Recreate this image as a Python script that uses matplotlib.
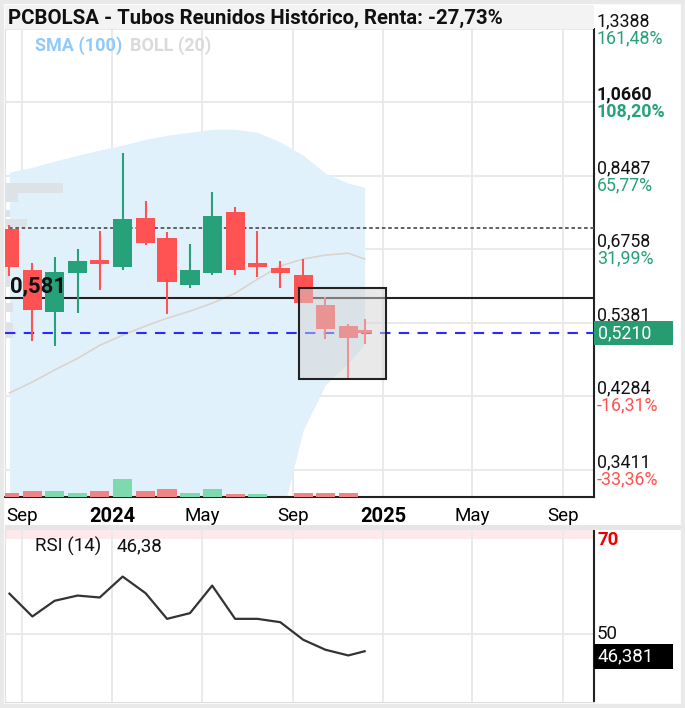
import matplotlib
matplotlib.use('Agg')
import matplotlib.pyplot as plt
import matplotlib.dates as mdates
from matplotlib.patches import Rectangle
import pandas as pd

plt.rcParams['font.family'] = ['Roboto', 'DejaVu Sans']

# monthly candles (last one is the running month)
dates = pd.to_datetime(['2023-08-15', '2023-09-15', '2023-10-15', '2023-11-15', '2023-12-15',
                        '2024-01-15', '2024-02-15', '2024-03-15', '2024-04-15', '2024-05-15',
                        '2024-06-15', '2024-07-15', '2024-08-15', '2024-09-15', '2024-10-15',
                        '2024-11-15', '2024-12-07'])
opens = [0.721, 0.634, 0.557, 0.628, 0.655, 0.639, 0.746, 0.700, 0.605, 0.628,
         0.758, 0.648, 0.637, 0.624, 0.569, 0.533, 0.527]
highs = [0.729, 0.647, 0.660, 0.676, 0.716, 0.910, 0.786, 0.714, 0.687, 0.808,
         0.771, 0.716, 0.651, 0.657, 0.584, 0.536, 0.544]
lows = [0.622, 0.509, 0.501, 0.555, 0.596, 0.635, 0.685, 0.553, 0.599, 0.624,
        0.624, 0.620, 0.599, 0.573, 0.512, 0.453, 0.504]
closes = [0.639, 0.560, 0.631, 0.651, 0.645, 0.742, 0.689, 0.611, 0.634, 0.750,
          0.635, 0.639, 0.629, 0.573, 0.528, 0.514, 0.521]
volumes = [40, 60, 60, 40, 60, 180, 60, 80, 40, 80, 27, 27, 0, 40, 40, 40, 0]

boll_upper = [0.859, 0.872, 0.889, 0.905, 0.920, 0.934, 0.951, 0.963, 0.972, 0.981,
              0.981, 0.972, 0.943, 0.905, 0.856, 0.830, 0.820]
boll_lower = [0.290, 0.285, 0.280, 0.275, 0.270, 0.265, 0.260, 0.260, 0.260, 0.260,
              0.265, 0.270, 0.290, 0.386, 0.444, 0.475, 0.504]
boll_mid = [0.433, 0.448, 0.465, 0.482, 0.502, 0.518, 0.533, 0.546, 0.558, 0.572,
            0.590, 0.616, 0.642, 0.656, 0.664, 0.668, 0.656]

rsi = [58.5, 53.7, 57.0, 58.1, 57.7, 62.1, 58.6, 53.2, 54.4, 60.2,
       53.2, 53.2, 52.5, 48.8, 46.7, 45.5, 46.381]

# volume profile bars at the left (price low, price high, length in days)
prof_lo = [0.806, 0.783, 0.747, 0.725, 0.601, 0.557, 0.514]
prof_hi = [0.830, 0.806, 0.763, 0.742, 0.637, 0.573, 0.538]
prof_len = [78, 18, 7, 30, 7, 11, 11]

price_ticks = [1.3388, 1.0660, 0.8487, 0.6758, 0.5381, 0.4284, 0.3411]
pct_labels = ['161,48%', '108,20%', '65,77%', '31,99%', '', '-16,31%', '-33,36%']
last_price = 0.5210
support = 0.581
ref_level = 0.722
box_start, box_end = '2024-09-10', '2025-01-05'
box_lo, box_hi = 0.4517, 0.599

tick_dates = pd.to_datetime(['2023-09-01', '2024-01-01', '2024-05-01', '2024-09-01',
                             '2025-01-01', '2025-05-01', '2025-09-01'])
tick_labels = ['Sep', '2024', 'May', 'Sep', '2025', 'May', 'Sep']

UP, DOWN = '#26a17a', '#ff5252'
GRID = '#e8e8e8'
W, H = 685, 708
FS = 12.8


def px_rect(l, t, r, b):
    return [l / W, 1 - b / H, (r - l) / W, (b - t) / H]


fig = plt.figure(figsize=(6.85, 7.08), dpi=100)
fig.patches.append(Rectangle((0, 0), 1, 1, transform=fig.transFigure, fill=False,
                             ec='#e9e9e9', lw=6))
# title band
fig.patches.append(Rectangle((5 / W, 1 - 29 / H), 589 / W, 24 / H, transform=fig.transFigure,
                             fc='#f3f3f3', ec='none'))
# separator between panels
fig.patches.append(Rectangle((5 / W, 1 - 530 / H), 676 / W, 5 / H, transform=fig.transFigure,
                             fc='#e6e6e6', ec='none'))

x = mdates.date2num(dates)
tx = mdates.date2num(tick_dates)
xmin, xmax = mdates.date2num(pd.Timestamp('2023-08-09')), mdates.date2num(pd.Timestamp('2025-10-13'))

# ---------------- price panel ----------------
ax = fig.add_axes(px_rect(5, 29, 594, 497))
ax.set_yscale('log')
ax.set_ylim(0.3136, 1.3388)
ax.set_xlim(xmin, xmax)
ax.set_yticks(price_ticks)
ax.yaxis.set_minor_locator(matplotlib.ticker.NullLocator())
ax.set_yticklabels([])
ax.tick_params(axis='y', length=0)
ax.set_xticks(tx)
ax.set_xticklabels(tick_labels)
ax.tick_params(axis='x', length=0, pad=7, labelsize=13.5)
for lab in ax.get_xticklabels():
    if lab.get_text().isdigit():
        lab.set_fontweight('bold')
        lab.set_fontsize(14.5)
ax.grid(True, color=GRID, lw=1.3, zorder=0)
ax.set_axisbelow(True)
ax.spines['top'].set_visible(False)
ax.spines['left'].set_color('#e2e2e2')
ax.spines['right'].set_color('#222222')
ax.spines['bottom'].set_color('#222222')
ax.spines['right'].set_linewidth(1.5)
ax.spines['bottom'].set_linewidth(1.5)

ax.fill_between(x, boll_lower, boll_upper, color='#e1f1fc', lw=0, zorder=1)
ax.plot(x, boll_mid, color='#dcd3cc', lw=1.2, zorder=2)

for lo, hi, ln in zip(prof_lo, prof_hi, prof_len):
    ax.barh(lo, ln, height=hi - lo, left=xmin, align='edge', color='#dce2e6', lw=0, zorder=2)

ax.hlines(ref_level, x[0], xmax, color='#555555', ls=(0, (2, 1.5)), lw=1.3, zorder=3)
ax.axhline(support, color='#222222', lw=1.5, zorder=3)
ax.axhline(last_price, color='#2a2aff', ls=(0, (5, 4)), lw=1.5, zorder=3)

for i in range(len(x)):
    o, h, l, c = opens[i], highs[i], lows[i], closes[i]
    col = UP if c >= o else DOWN
    w = 20 if i == len(x) - 1 else 26
    ax.vlines(x[i], l, h, color=col, lw=1.5, zorder=4)
    ax.bar(x[i], max(abs(c - o), 0.003), bottom=min(o, c), width=w, color=col, lw=0, zorder=5)

b0, b1 = mdates.date2num(pd.Timestamp(box_start)), mdates.date2num(pd.Timestamp(box_end))
ax.add_patch(Rectangle((b0, box_lo), b1 - b0, box_hi - box_lo, fc='#d5d5d5', alpha=0.5,
                       ec='none', zorder=6))
ax.add_patch(Rectangle((b0, box_lo), b1 - b0, box_hi - box_lo, fill=False,
                       ec='#222222', lw=1.5, zorder=7))

ax.annotate('0,581', xy=(0.008, support), xycoords=ax.get_yaxis_transform(),
            xytext=(0, 12), textcoords='offset pixels', fontsize=16, fontweight='bold',
            color='#111111', va='center', ha='left', zorder=8)

ytr = ax.get_yaxis_transform()
for v, p in zip(price_ticks, pct_labels):
    bold = abs(v - 1.066) < 1e-6
    ax.annotate(f'{v:.4f}'.replace('.', ','), xy=(1, v), xycoords=ytr, xytext=(3, 8),
                textcoords='offset pixels', va='center', ha='left', fontsize=FS,
                fontweight='bold' if bold else 'normal', color='#111111', annotation_clip=False)
    if p:
        pc = '#26a17a' if not p.startswith('-') else '#ff5252'
        ax.annotate(p, xy=(1, v), xycoords=ytr, xytext=(3, -9), textcoords='offset pixels',
                    va='center', ha='left', fontsize=FS, color=pc,
                    fontweight='bold' if bold else 'normal', annotation_clip=False)

f = 10 ** (12 / 743)
ax.add_patch(Rectangle((1.0, last_price / f), 79 / 589, last_price * f - last_price / f,
                       transform=ytr, fc='#279c72', ec='none', clip_on=False, zorder=9))
ax.annotate(f'{last_price:.4f}'.replace('.', ','), xy=(1, last_price), xycoords=ytr,
            xytext=(4, 0), textcoords='offset pixels', va='center', ha='left',
            fontsize=FS, color='white', annotation_clip=False, zorder=10)

# volume overlay
vax = fig.add_axes(px_rect(5, 29, 594, 497))
vax.set_xlim(xmin, xmax)
vax.set_ylim(0, max(volumes) * 468 / 18)
vax.axis('off')
vax.patch.set_visible(False)
vcols = ['#f08484'] + ['#7fd9ae' if closes[i] >= closes[i - 1] else '#f08484'
                       for i in range(1, len(closes))]
vax.bar(x, volumes, width=26, color=vcols, lw=0)

fig.text(8 / W, 1 - 18 / H, 'PCBOLSA - Tubos Reunidos Histórico, Renta: -27,73%',
         fontsize=14.7, fontweight='bold', color='#111111', va='center', ha='left')
fig.text(35 / W, 1 - 46 / H, 'SMA (100)', fontsize=13, fontweight='bold', color='#90caf9',
         va='center', ha='left')
fig.text(130 / W, 1 - 46 / H, 'BOLL (20)', fontsize=13, fontweight='bold', color='#dadada',
         va='center', ha='left')

# ---------------- RSI panel ----------------
rax = fig.add_axes(px_rect(5, 530, 594, 702))
rax.set_xlim(xmin, xmax)
rax.set_ylim(35.7, 71.9)
rax.axhspan(70, 72, color='#fde9eb', lw=0, zorder=0)
rax.set_xticks(tx)
rax.set_xticklabels([])
rax.set_yticks([50])
rax.set_yticklabels([])
rax.tick_params(length=0)
rax.grid(True, color=GRID, lw=1.3, zorder=0)
rax.set_axisbelow(True)
rax.spines['top'].set_visible(False)
rax.spines['left'].set_color('#e2e2e2')
rax.spines['bottom'].set_color('#dcdcdc')
rax.spines['right'].set_color('#222222')
rax.spines['right'].set_linewidth(1.5)
rax.plot(x, rsi, color='#333333', lw=1.6, zorder=3)

rtr = rax.get_yaxis_transform()
rax.annotate('70', xy=(1, 70), xycoords=rtr, xytext=(3, -1), textcoords='offset pixels',
             va='center', ha='left', fontsize=13.5, fontweight='bold', color='#ee0000',
             annotation_clip=False)
rax.annotate('50', xy=(1, 50), xycoords=rtr, xytext=(3, 0), textcoords='offset pixels',
             va='center', ha='left', fontsize=13.5, color='#111111', annotation_clip=False)
rax.add_patch(Rectangle((1.0, 42.6), 79 / 589, 5.3, transform=rtr, fc='black', ec='none',
                        clip_on=False, zorder=9))
rax.annotate(f'{rsi[-1]:.3f}'.replace('.', ','), xy=(1, 45.25), xycoords=rtr, xytext=(4, 0),
             textcoords='offset pixels', va='center', ha='left', fontsize=13.5, color='white',
             annotation_clip=False, zorder=10)
fig.text(35 / W, 1 - 546 / H, 'RSI (14)', fontsize=13.5, color='#111111', va='center', ha='left')
fig.text(117 / W, 1 - 546 / H, f'{rsi[-1]:.2f}'.replace('.', ','), fontsize=13.5,
         color='#111111', va='center', ha='left')

fig.savefig('out.png', dpi=100)
